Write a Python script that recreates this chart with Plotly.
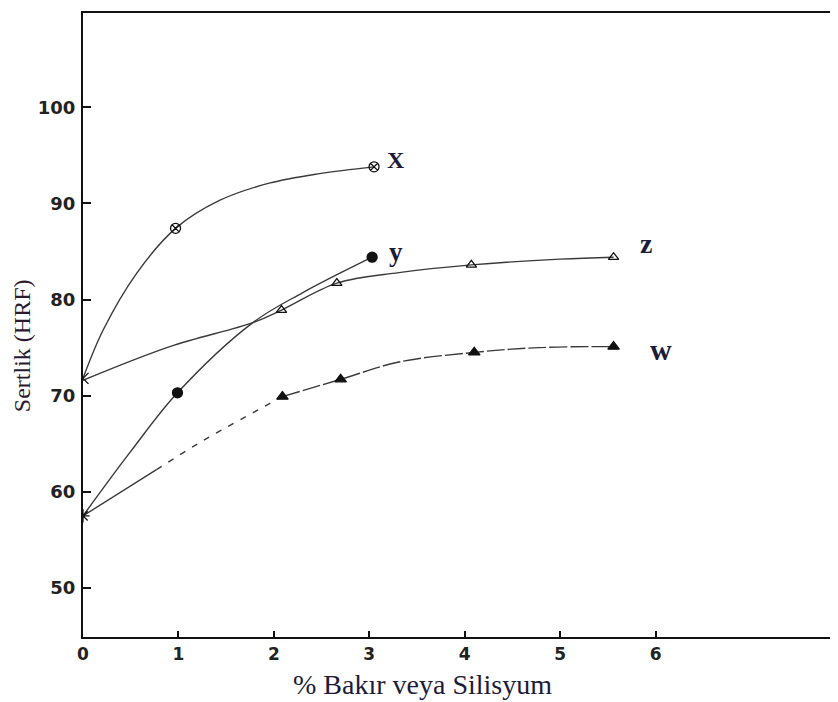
import plotly.graph_objects as go

# ---- data ----
# series X (crossed circles)
x_curve_x = [0, 0.21, 0.56, 0.97, 1.43, 1.95, 2.48, 3.05]
x_curve_y = [71.8, 76.8, 82.7, 87.4, 90.3, 92.1, 93.1, 93.8]
x_mark_x = [0.97, 3.05]
x_mark_y = [87.4, 93.8]

# series y (filled circles)
y_curve_x = [0, 0.5, 0.99, 1.78, 2.3, 3.03]
y_curve_y = [57.5, 64.2, 70.3, 77.6, 80.7, 84.4]
y_mark_x = [0.99, 3.03]
y_mark_y = [70.3, 84.4]

# series z (open triangles)
z_curve_x = [0, 0.91, 1.78, 2.08, 2.66, 3.31, 4.07, 5.0, 5.56]
z_curve_y = [71.6, 75.1, 77.6, 78.9, 81.7, 82.8, 83.6, 84.2, 84.4]
z_mark_x = [2.08, 2.66, 4.07, 5.56]
z_mark_y = [78.9, 81.7, 83.6, 84.4]

# series w (filled triangles)
w_solid0_x = [0, 0.77]
w_solid0_y = [57.5, 62.3]
w_dash_x = [0.77, 1.22, 2.09]
w_dash_y = [62.3, 65.1, 69.9]
w_curve_x = [2.09, 2.7, 3.31, 4.1, 4.78, 5.56]
w_curve_y = [69.9, 71.7, 73.5, 74.5, 75.0, 75.1]
w_mark_x = [2.09, 2.7, 4.1, 5.56]
w_mark_y = [69.9, 71.7, 74.5, 75.1]

# common starting points at 0 %
start_x = [0, 0]
start_y = [71.8, 57.5]

series_names = ["X", "y", "z", "w"]
x_ticks = [0, 1, 2, 3, 4, 5, 6]
y_ticks = [50, 60, 70, 80, 90, 100]

LINE = "#3a3a3a"
INK = "#111111"
TXT = "#1b1b3a"

fig = go.Figure()

def curve(xs, ys, dash="solid", shape="spline"):
    fig.add_trace(go.Scatter(x=xs, y=ys, mode="lines",
                             line=dict(color=LINE, width=1.4, dash=dash, shape=shape, smoothing=1.0),
                             showlegend=False, hoverinfo="skip"))

def marks(xs, ys, symbol, size=9):
    fig.add_trace(go.Scatter(x=xs, y=ys, mode="markers",
                             marker=dict(symbol=symbol, size=size, color=INK,
                                         line=dict(color=INK, width=1.3)),
                             showlegend=False))

curve(x_curve_x, x_curve_y)
curve(y_curve_x, y_curve_y)
curve(z_curve_x, z_curve_y)
curve(w_solid0_x, w_solid0_y, shape="linear")
curve(w_dash_x, w_dash_y, dash="6px,8px")
curve(w_curve_x, w_curve_y, dash="18px,3px")

marks(x_mark_x, x_mark_y, "circle-x-open", 10)
marks(y_mark_x, y_mark_y, "circle", 10)
marks(z_mark_x, z_mark_y, "triangle-up-open", 9)
marks(w_mark_x, w_mark_y, "triangle-up", 10)
marks(start_x[:1], start_y[:1], "x-thin-open", 11)
marks(start_x[1:], start_y[1:], "asterisk-open", 11)

# series labels placed next to each series' last point (x shift, y shift, font size)
ends = [(x_mark_x[-1], x_mark_y[-1], 22, 7, 24),
        (y_mark_x[-1], y_mark_y[-1], 24, 5, 27),
        (z_mark_x[-1], z_mark_y[-1], 32, 14, 28),
        (w_mark_x[-1], w_mark_y[-1], 47, -3, 30)]
for name, (ex, ey, dx, dy, fs) in zip(series_names, ends):
    fig.add_annotation(x=ex, y=ey, text=name, showarrow=False,
                       xshift=dx, yshift=dy, xanchor="center", yanchor="middle",
                       font=dict(family="Liberation Serif", size=fs, color=TXT, weight="bold"))

PW = 836 - 83
PH = 637 - 13
fig.add_annotation(text="% Bakır veya Silisyum", xref="paper", yref="paper",
                   x=(423 - 83) / PW, y=-(684 - 637) / PH, showarrow=False,
                   xanchor="center", yanchor="middle",
                   font=dict(family="Liberation Serif", size=28, color=TXT))
fig.add_annotation(text="Sertlik (HRF)", xref="paper", yref="paper",
                   x=-(83 - 22) / PW, y=(637 - 346) / PH, showarrow=False,
                   textangle=-90, xanchor="center", yanchor="middle",
                   font=dict(family="Liberation Serif", size=24, color="#2a1a30"))

fig.update_xaxes(range=[0, 7.87], tickvals=x_ticks, ticks="inside", ticklen=6,
                 tickwidth=1.5, tickcolor=INK, showline=True, linewidth=2,
                 linecolor=INK, mirror=True, showgrid=False, zeroline=False,
                 ticklabelstandoff=1,
                 tickfont=dict(family="DejaVu Sans", size=17, color="#222", weight="bold"))
fig.update_yaxes(range=[44.9, 109.8], tickvals=y_ticks, ticks="inside", ticklen=8,
                 tickwidth=1.5, tickcolor=INK, showline=True, linewidth=2,
                 linecolor=INK, mirror=True, showgrid=False, zeroline=False,
                 ticklabelstandoff=2,
                 tickfont=dict(family="DejaVu Sans", size=18, color="#222", weight="bold"))

# the page puts the figure 8 px in from the top-left corner
fig.update_layout(width=830, height=694, plot_bgcolor="white", paper_bgcolor="white",
                  margin=dict(l=75, r=2, t=5, b=65), showlegend=False)

fig.write_html("out.html")
